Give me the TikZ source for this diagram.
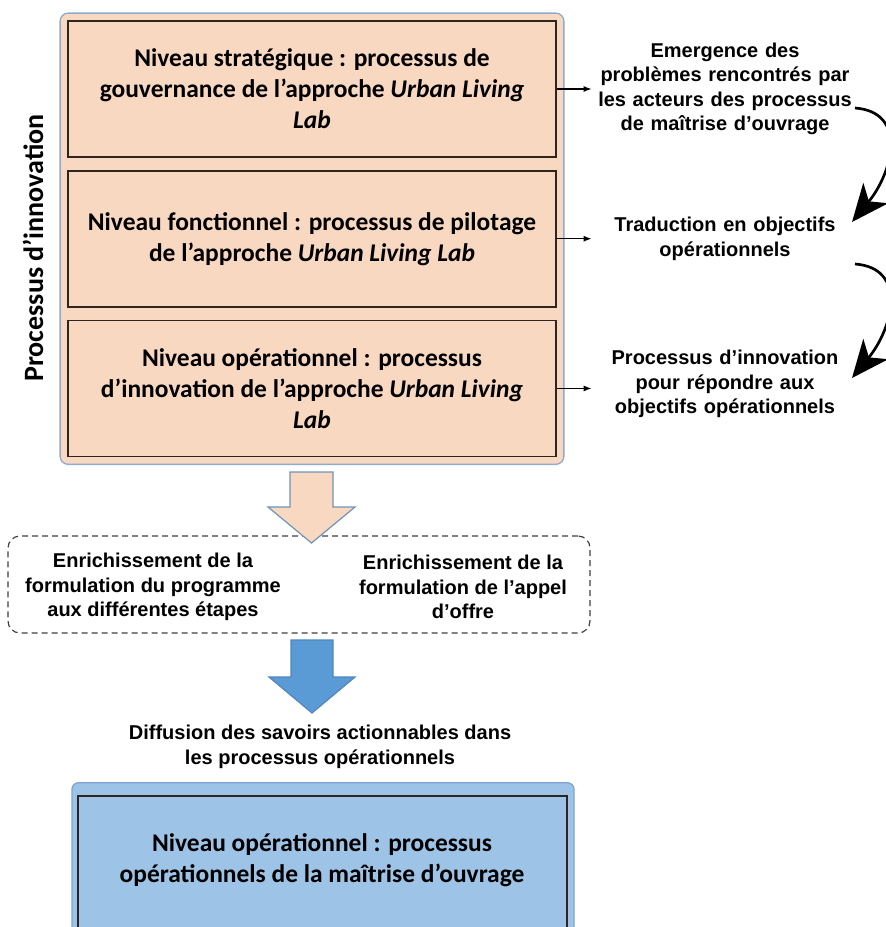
\documentclass[tikz,border=0pt]{standalone}
\usepackage{fontspec}
\setmainfont{Carlito}
\newfontfamily\arialfont{Liberation Sans}
\usetikzlibrary{arrows.meta,positioning,fit,backgrounds}
\definecolor{peachfill}{HTML}{F9D8C2}
\definecolor{frameblue}{HTML}{8FAACB}
\definecolor{steeledge}{HTML}{6F93B8}
\definecolor{arrowblue}{HTML}{5B9BD5}
\definecolor{arrowedge}{HTML}{4F86BD}
\definecolor{paleblue}{HTML}{9DC3E6}
\definecolor{rimblue}{HTML}{7FA6D3}
\definecolor{boxedge}{HTML}{2E2420}
\tikzset{
  levelbox/.style={draw=boxedge,fill=peachfill,line width=1.3pt,align=center,minimum width=366pt,minimum height=102pt,inner sep=0pt,font=\fontsize{19.1}{23.25}\selectfont\bfseries},
  framebox/.style={draw=frameblue,fill=peachfill,line width=1pt,rounded corners=6pt,inner sep=5.25pt},
  sidetext/.style={align=center,text width=195pt,inner xsep=2.25pt,inner ysep=2pt,font=\arialfont\fontsize{15}{18.4}\selectfont\bfseries},
  plaintext/.style={align=center,inner sep=2pt,font=\arialfont\fontsize{15}{18.4}\selectfont\bfseries},
  dashbox/.style={draw=black!75,dash pattern=on 4.5pt off 3pt,line width=0.9pt,rounded corners=9pt,minimum width=436.5pt,minimum height=72.75pt},
  opframe/.style={draw=rimblue,fill=paleblue,line width=1pt,rounded corners=5pt,minimum width=376.5pt,minimum height=130pt,anchor=north},
  opbox/.style={draw=boxedge,fill=paleblue,line width=1.3pt,minimum width=366.75pt,minimum height=120pt,anchor=north},
  optext/.style={align=center,inner sep=0pt,font=\fontsize{19.1}{23.25}\selectfont\bfseries},
  sidearrow/.style={-{Latex[length=6pt,width=4.5pt]},line width=1.1pt},
  bendarrow/.style={-{Stealth[length=28pt,width=24pt,inset=8pt]},line width=2pt},
  peacharrow/.style={fill=peachfill,draw=steeledge,line width=0.9pt},
  bluearrow/.style={fill=arrowblue,draw=arrowedge,line width=0.9pt},
}
\begin{document}
\begin{tikzpicture}[x=0.75pt,y=-0.75pt,node distance=9pt]
  \useasboundingbox (0,0) rectangle (885,927);
  \node[levelbox] (strat) at (312,89) {Niveau stratégique : processus de\\gouvernance de l’approche \textit{Urban Living}\\\textit{Lab}};
  \node[levelbox,below=of strat] (fonct) {Niveau fonctionnel : processus de pilotage\\de l’approche \textit{Urban Living Lab}};
  \node[levelbox,below=of fonct] (operat) {Niveau opérationnel : processus\\d’innovation de l’approche \textit{Urban Living}\\\textit{Lab}};
  \begin{scope}[on background layer]
    \node[framebox,fit=(strat)(fonct)(operat)] (innov) {};
  \end{scope}
  \node[rotate=90,font=\fontsize{21}{26}\selectfont\bfseries] (innovlabel) at (33,248) {Processus d’innovation};

  \node[sidetext] (emerg) at (725,89) {Emergence des\\problèmes rencontrés par\\les acteurs des processus\\de maîtrise d’ouvrage};
  \node[sidetext] (trad) at (725,239) {Traduction en objectifs\\opérationnels};
  \node[sidetext] (innovobj) at (725,384) {Processus d’innovation\\pour répondre aux\\objectifs opérationnels};
  \draw[sidearrow] (strat.east) -- (strat.east -| emerg.west);
  \draw[sidearrow] (fonct.east) -- (fonct.east -| trad.west);
  \draw[sidearrow] (operat.east) -- (operat.east -| innovobj.west);

  \coordinate (bendA) at (855,108);
  \coordinate (tipA) at (852,222);
  \coordinate (bendB) at (855,264);
  \coordinate (tipB) at (852,378);
  \draw[bendarrow] (bendA) .. controls (908,112) and (893,172) .. (tipA);
  \draw[bendarrow] (bendB) .. controls (908,268) and (893,328) .. (tipB);

  \node[dashbox] (enrich) at (299,584.5) {};
  \node[plaintext] (enrprog) at (153,587) {Enrichissement de la\\formulation du programme\\aux différentes étapes};
  \node[plaintext] (enrappel) at (463,587) {Enrichissement de la\\formulation de l’appel\\d’offre};
  \draw[peacharrow] (290,472) -- (333,472) -- (333,507) -- (355,507) -- (311.5,543) -- (268,507) -- (290,507) -- cycle;
  \draw[bluearrow] (291,640) -- (333,640) -- (333,677) -- (355,677) -- (312,713) -- (269,677) -- (291,677) -- cycle;

  \node[plaintext] (diffus) at (320,747) {Diffusion des savoirs actionnables dans\\les processus opérationnels};
  \node[opframe] (opouter) at (323,782) {};
  \node[opbox] (opinner) at (322.5,795) {};
  \node[optext] (optxt) at (322,860) {Niveau opérationnel : processus\\opérationnels de la maîtrise d’ouvrage};
\end{tikzpicture}
\end{document}
